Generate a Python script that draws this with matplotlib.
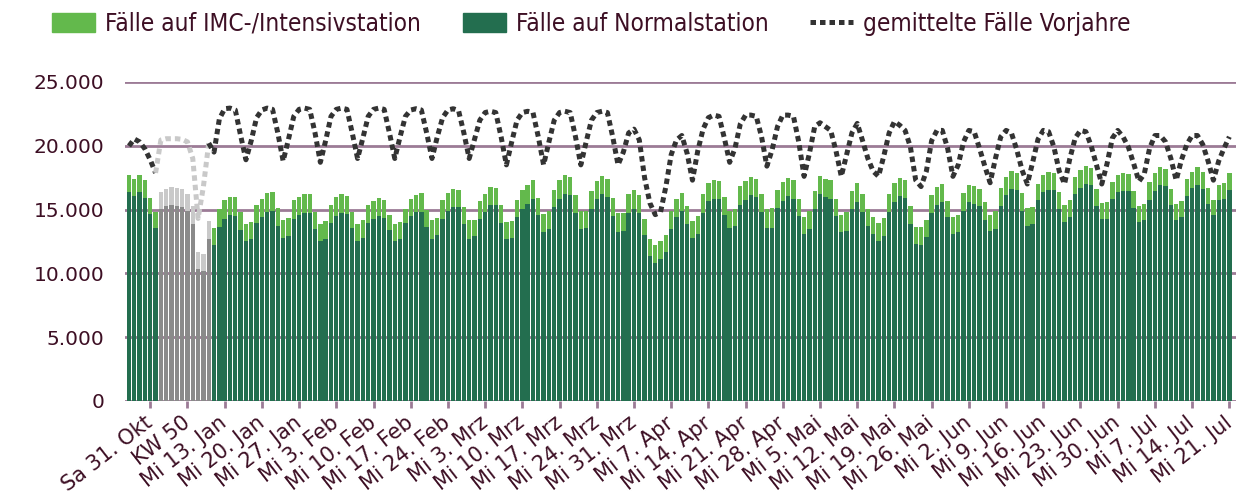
"""Belegte Betten: Normalstation und IMC/Intensiv gegen Mittel der Vorjahre."""
import matplotlib
matplotlib.use("Agg")
import matplotlib.pyplot as plt
from matplotlib.patches import Patch
from matplotlib.lines import Line2D
from matplotlib.ticker import FuncFormatter
from matplotlib.font_manager import FontProperties

normal = [
    16340, 16050, 16340, 15920, 14660, 13560, 15030, 15290, 15340, 15290,
    15180, 14920, 13900, 10310, 10180, 12670, 12250, 13670, 14270, 14560,
    14500, 13380, 12540, 12670, 13980, 14400, 14840, 14900, 13720, 12800,
    12930, 14270, 14610, 14760, 14760, 13460, 12510, 12700, 13930, 14530,
    14760, 14630, 13560, 12510, 12800, 13950, 14270, 14500, 14320, 13380,
    12570, 12720, 13950, 14480, 14790, 14820, 13640, 12720, 12980, 14290,
    14900, 15210, 15160, 13850, 12670, 12910, 14240, 14820, 15340, 15340,
    13950, 12720, 12800, 14400, 15080, 15470, 15860, 14560, 13250, 13460,
    15160, 15860, 16200, 16130, 14740, 13510, 13560, 15080, 15810, 16180,
    16000, 14480, 13250, 13320, 14740, 15080, 14740, 12980, 11360, 10840,
    11130, 11680, 13460, 14420, 14900, 13900, 12800, 13090, 14760, 15650,
    15860, 15810, 14610, 13560, 13690, 15340, 15730, 16130, 15970, 14790,
    13560, 13560, 15100, 15650, 16070, 15860, 14480, 13060, 13460, 15030,
    16180, 15990, 15860, 14480, 13250, 13320, 15030, 15620, 14780, 13710,
    13090, 12560, 12930, 14840, 15620, 16070, 15880, 13870, 12300, 12250,
    12870, 14710, 15360, 15570, 14400, 13110, 13250, 14900, 15580, 15420,
    15260, 14210, 13300, 13510, 15290, 16130, 16600, 16520, 14920, 13720,
    13850, 15710, 16360, 16540, 16520, 15030, 14060, 14400, 16180, 16650,
    17020, 16890, 15310, 14240, 14290, 15810, 16340, 16490, 16440, 15130,
    14010, 14190, 15760, 16470, 16910, 16830, 15340, 14160, 14400, 16070,
    16680, 16910, 16600, 15450, 14560, 15710, 15810, 16520,
]

imc = [
    1360, 1360, 1380, 1380, 1280, 1230, 1310, 1330, 1410, 1410,
    1390, 1280, 1410, 1370, 1360, 1410, 1340, 1410, 1440, 1460,
    1470, 1440, 1360, 1340, 1360, 1440, 1470, 1440, 1410, 1390,
    1390, 1440, 1390, 1420, 1420, 1380, 1390, 1380, 1440, 1440,
    1440, 1420, 1260, 1340, 1390, 1420, 1410, 1390, 1390, 1200,
    1280, 1310, 1130, 1310, 1340, 1440, 1360, 1440, 1370, 1420,
    1410, 1390, 1380, 1330, 1490, 1300, 1410, 1410, 1410, 1360,
    1420, 1290, 1280, 1360, 1440, 1420, 1420, 1380, 1380, 1410,
    1380, 1420, 1470, 1440, 1360, 1390, 1360, 1410, 1440, 1440,
    1430, 1410, 1440, 1440, 1440, 1440, 1410, 1310, 1360, 1380,
    1410, 1360, 1410, 1370, 1410, 1390, 1340, 1410, 1470, 1440,
    1440, 1440, 1360, 1310, 1390, 1490, 1470, 1440, 1390, 1390,
    1520, 1540, 1440, 1520, 1390, 1440, 1360, 1360, 1410, 1410,
    1440, 1440, 1420, 1360, 1360, 1470, 1410, 1490, 1440, 1360,
    1350, 1360, 1390, 1380, 1440, 1380, 1440, 1410, 1360, 1360,
    1310, 1430, 1390, 1410, 1270, 1310, 1300, 1410, 1380, 1410,
    1340, 1390, 1310, 1360, 1360, 1410, 1410, 1360, 1390, 1410,
    1310, 1330, 1340, 1370, 1310, 1310, 1280, 1330, 1390, 1410,
    1380, 1330, 1290, 1260, 1290, 1360, 1330, 1340, 1310, 1340,
    1300, 1280, 1360, 1360, 1390, 1340, 1280, 1260, 1250, 1290,
    1280, 1390, 1360, 1200, 1170, 1250, 1260, 1310,
]

vorjahre = [
    19980, 20530, 20300, 19750, 18890, 17870, 20450, 20550, 20550, 20550,
    20500, 20300, 19000, 14300, 16800, 20200, 19500, 22100, 22900, 22950,
    22800, 20800, 18900, 20400, 22200, 22800, 22950, 22850, 21000, 18800,
    20500, 22300, 22850, 22950, 22850, 21000, 18700, 20400, 22300, 22850,
    22950, 22850, 21000, 19000, 20600, 22300, 22850, 22950, 22850, 21000,
    19000, 20700, 22300, 22800, 22900, 22800, 21000, 19000, 20700, 22200,
    22800, 22900, 22750, 21000, 19000, 20500, 22000, 22600, 22700, 22600,
    20700, 18500, 20300, 22000, 22600, 22700, 22600, 20700, 18500, 20300,
    22000, 22600, 22700, 22600, 20700, 18500, 20300, 22000, 22600, 22700,
    22600, 20700, 18500, 19500, 21000, 21300, 20450, 17480, 15500, 14600,
    14800, 16800, 19300, 20450, 20800, 19400, 17300, 19600, 21300, 22200,
    22400, 22300, 20600, 18700, 19800, 21700, 22400, 22400, 22300, 20700,
    18400, 19700, 21500, 22400, 22400, 22300, 20300, 17600, 19400, 21500,
    21800, 21500, 21200, 19600, 17600, 19300, 21000, 21750, 20400, 19000,
    18000, 17600, 19200, 21000, 21900, 21600, 21200, 19900, 17300, 16800,
    18000, 20400, 21200, 21200, 19800, 17600, 18500, 20300, 21200, 21100,
    19800, 18400, 17100, 19000, 20700, 21200, 21000, 19700, 18100, 17000,
    18700, 20500, 21200, 21100, 19900, 18000, 17000, 19000, 20600, 21200,
    21100, 20000, 18500, 17000, 18600, 20600, 21200, 20700, 19900, 18600,
    17200, 17800, 19800, 20800, 20800, 20300, 19000, 17300, 18900, 20100,
    20800, 20800, 20100, 18800, 17300, 18800, 19800, 20700,
]

tick_labels = [
    "Sa 31. Okt", "KW 50", "Mi 13. Jan", "Mi 20. Jan", "Mi 27. Jan",
    "Mi 3. Feb", "Mi 10. Feb", "Mi 17. Feb", "Mi 24. Feb", "Mi 3. Mrz",
    "Mi 10. Mrz", "Mi 17. Mrz", "Mi 24. Mrz", "Mi 31. Mrz", "Mi 7. Apr",
    "Mi 14. Apr", "Mi 21. Apr", "Mi 28. Apr", "Mi 5. Mai", "Mi 12. Mai",
    "Mi 19. Mai", "Mi 26. Mai", "Mi 2. Jun", "Mi 9. Jun", "Mi 16. Jun",
    "Mi 23. Jun", "Mi 30. Jun", "Mi 7. Jul", "Mi 14. Jul", "Mi 21. Jul",
]

# Tage, die grau (Vergleichswoche) gezeichnet sind
grey_start, grey_end = 6, 15

dark_green = '#236e4f'
light_green = '#63b94c'
dark_grey = '#8a8a8a'
light_grey = '#c9c9c9'
grid_col = '#9c7b96'
text_col = '#3d0f24'


def main():
    x = list(range(len(normal)))
    grey = [grey_start <= i <= grey_end for i in x]
    c_norm = [dark_grey if g else dark_green for g in grey]
    c_imc = [light_grey if g else light_green for g in grey]

    fig = plt.figure(figsize=(12.5, 4.95), dpi=100)
    ax = fig.add_axes([0.1, 0.19, 0.889, 0.6445])

    for v in range(0, 25001, 5000):
        ax.axhline(v, color=grid_col, lw=2, zorder=0)

    ax.bar(x, normal, width=0.82, color=c_norm, zorder=2)
    ax.bar(x, imc, bottom=normal, width=0.82, color=c_imc, zorder=2)

    dots = dict(lw=3.6, linestyle=(0, (1.1, 0.8)), dash_capstyle='butt', zorder=3)
    ax.plot(x[:grey_start], vorjahre[:grey_start], color='#333333', **dots)
    ax.plot(x[grey_start - 1:grey_end + 1], vorjahre[grey_start - 1:grey_end + 1],
            color=light_grey, **dots)
    ax.plot(x[grey_end:], vorjahre[grey_end:], color='#333333', **dots)

    ax.set_xlim(-0.75, 208.3)
    ax.set_ylim(0, 25000)
    ax.set_yticks(range(0, 25001, 5000))
    ax.yaxis.set_major_formatter(
        FuncFormatter(lambda v, p: "{:,.0f}".format(v).replace(",", ".")))
    ax.tick_params(axis='y', length=0, pad=15, labelsize=14.5, labelcolor=text_col)

    ticks = list(range(4, len(normal), 7))
    ax.set_xticks(ticks)
    ax.set_xticklabels(tick_labels, rotation=38, ha='right', va='center',
                       rotation_mode='anchor', fontsize=15, color=text_col)
    ax.tick_params(axis='x', length=5, width=2, color=grid_col, pad=9)

    for s in ax.spines.values():
        s.set_visible(False)

    handles = [
        Patch(color=light_green, label="Fälle auf IMC-/Intensivstation"),
        Patch(color=dark_green, label="Fälle auf Normalstation"),
        Line2D([], [], color='#333333', lw=3.6, linestyle=(0, (1.1, 0.8)),
               dash_capstyle='butt', label="gemittelte Fälle Vorjahre"),
    ]
    leg_font = FontProperties(family='DejaVu Sans', stretch='condensed', size=17.5)
    leg = fig.legend(handles=handles, loc='upper left', ncol=3,
                     bbox_to_anchor=(0.03, 1.006), frameon=False, prop=leg_font,
                     handlelength=1.77, handleheight=0.82, columnspacing=1.7,
                     handletextpad=0.42, borderaxespad=0.2)
    for t in leg.get_texts():
        t.set_color(text_col)

    fig.savefig("out.png", dpi=100)


if __name__ == '__main__':
    main()
